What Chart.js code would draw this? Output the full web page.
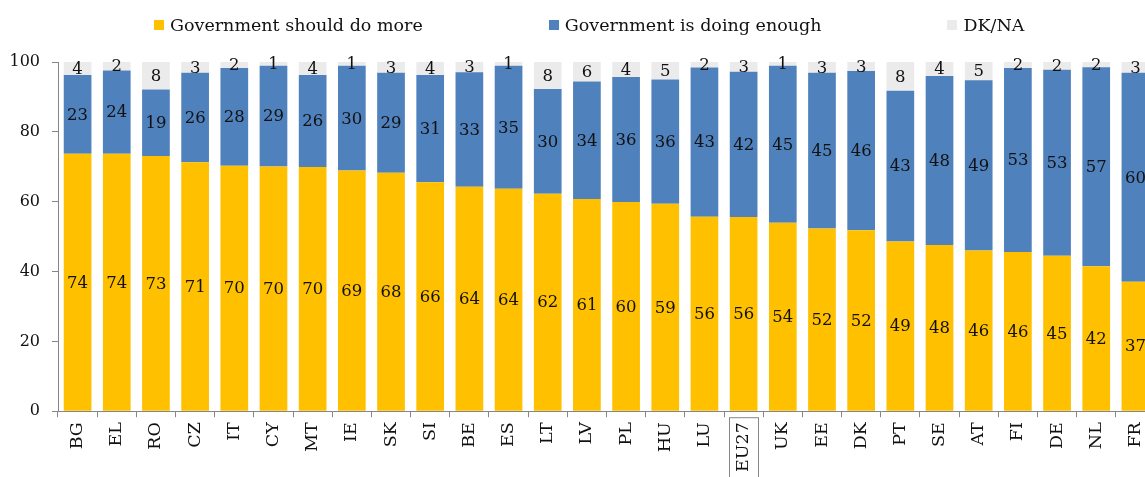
<!DOCTYPE html>
<html>
<head>
<meta charset="utf-8">
<script src="https://cdn.jsdelivr.net/npm/chart.js@4/dist/chart.umd.min.js"></script>
<style>
  html, body { margin: 0; padding: 0; background: #fff; overflow: hidden; width: 1145px; height: 477px; }
  #clip { position: relative; width: 1145px; height: 477px; overflow: hidden; }
  #wrap { position: absolute; left: 0; top: 0; width: 1160px; height: 477px; }
  #legend { position: absolute; left: 0; top: 15px; display: flex; padding-left: 154px; gap: 126px;
            font-family: "DejaVu Serif", serif; font-size: 17.5px; color: #111; align-items: center; }
  #legend .item { display: flex; align-items: center; white-space: nowrap; }
  #legend .sw { width: 10px; height: 10px; margin-right: 6px; }
</style>
</head>
<body>
<div id="clip">
<div id="wrap">
  <div id="legend"></div>
  <canvas id="c"></canvas>
</div>
</div>
<script>
const categories = ["BG","EL","RO","CZ","IT","CY","MT","IE","SK","SI","BE","ES","LT","LV","PL","HU","LU","EU27","UK","EE","DK","PT","SE","AT","FI","DE","NL","FR"];
const shouldDoMore = [73.7,73.7,73.1,71.3,70.3,70.1,69.9,68.9,68.3,65.6,64.3,63.7,62.3,60.8,59.9,59.4,55.7,55.6,54.0,52.3,51.8,48.6,47.6,46.0,45.6,44.5,41.5,37.1];
const doingEnough  = [22.6,23.9,19.0,25.6,28.0,28.8,26.4,30.0,28.6,30.7,32.8,35.2,30.0,33.6,35.8,35.6,42.7,41.6,44.9,44.6,45.6,43.2,48.4,48.8,52.7,53.3,57.0,59.8];
const dkNa         = [3.7,2.4,7.9,3.1,1.7,1.1,3.7,1.1,3.1,3.7,2.9,1.1,7.7,5.6,4.3,5.0,1.6,2.8,1.1,3.1,2.6,8.2,4.0,5.2,1.7,2.2,1.6,3.1];
const seriesNames  = ["Government should do more","Government is doing enough","DK/NA"];
const seriesColors = ["#FFC000","#4F81BD","#EBEBEB"];
const yTicks = [0,20,40,60,80,100];
const highlighted = "EU27";

const FONT = '"DejaVu Serif", serif';

const lg = document.getElementById('legend');
seriesNames.forEach((n, i) => {
  const it = document.createElement('div'); it.className = 'item';
  const sw = document.createElement('span'); sw.className = 'sw'; sw.style.background = seriesColors[i];
  const tx = document.createElement('span'); tx.textContent = n;
  it.appendChild(sw); it.appendChild(tx); lg.appendChild(it);
});

const labelPlugin = {
  id: 'segLabels',
  afterDatasetsDraw(chart) {
    const ctx = chart.ctx;
    ctx.save();
    ctx.font = '16.5px ' + FONT;
    ctx.fillStyle = '#111';
    ctx.textAlign = 'center';
    ctx.textBaseline = 'middle';
    chart.data.datasets.forEach((ds, di) => {
      const meta = chart.getDatasetMeta(di);
      meta.data.forEach((el, i) => {
        const v = ds.data[i];
        const cy = (el.y + el.base) / 2;
        ctx.fillText(String(Math.round(v)), el.x, cy + 1);
      });
    });
    ctx.restore();
  },
  afterDraw(chart) {
    const xs = chart.scales.x;
    const idx = categories.indexOf(highlighted);
    if (idx < 0) return;
    const cx = xs.getPixelForValue(idx);
    const ctx = chart.ctx;
    ctx.save();
    ctx.strokeStyle = '#868686';
    ctx.lineWidth = 1;
    ctx.strokeRect(Math.round(cx - 14.5) + 0.5, xs.top + 6.5, 29, chart.height - xs.top);
    ctx.restore();
  }
};

new Chart(document.getElementById('c'), {
  type: 'bar',
  data: {
    labels: categories,
    datasets: [
      { label: seriesNames[0], data: shouldDoMore, backgroundColor: seriesColors[0] },
      { label: seriesNames[1], data: doingEnough, backgroundColor: seriesColors[1] },
      { label: seriesNames[2], data: dkNa, backgroundColor: seriesColors[2] }
    ]
  },
  options: {
    responsive: true,
    maintainAspectRatio: false,
    animation: false,
    layout: { padding: { top: 62, left: 10, right: 5, bottom: 0 } },
    datasets: { bar: { categoryPercentage: 1, barPercentage: 0.707, borderWidth: 0 } },
    plugins: { legend: { display: false }, tooltip: { enabled: false } },
    scales: {
      x: {
        stacked: true,
        afterFit(s) { s.paddingLeft = 0; s.paddingRight = 0; },
        grid: { drawOnChartArea: false, drawTicks: true, tickLength: 6, offset: true, color: '#868686' },
        border: { color: '#868686' },
        ticks: { maxRotation: 90, minRotation: 90, padding: 5, color: '#111', font: { family: FONT, size: 17.5 } }
      },
      y: {
        stacked: true,
        min: 0, max: 100,
        afterBuildTicks(s) { s.ticks = yTicks.map(v => ({ value: v })); },
        afterFit(s) { s.width = 48; },
        grid: { drawOnChartArea: false, drawTicks: true, tickLength: 6, color: '#868686' },
        border: { color: '#868686' },
        ticks: { padding: 12, color: '#111', font: { family: FONT, size: 16 } }
      }
    }
  },
  plugins: [labelPlugin]
});
</script>
</body>
</html>
